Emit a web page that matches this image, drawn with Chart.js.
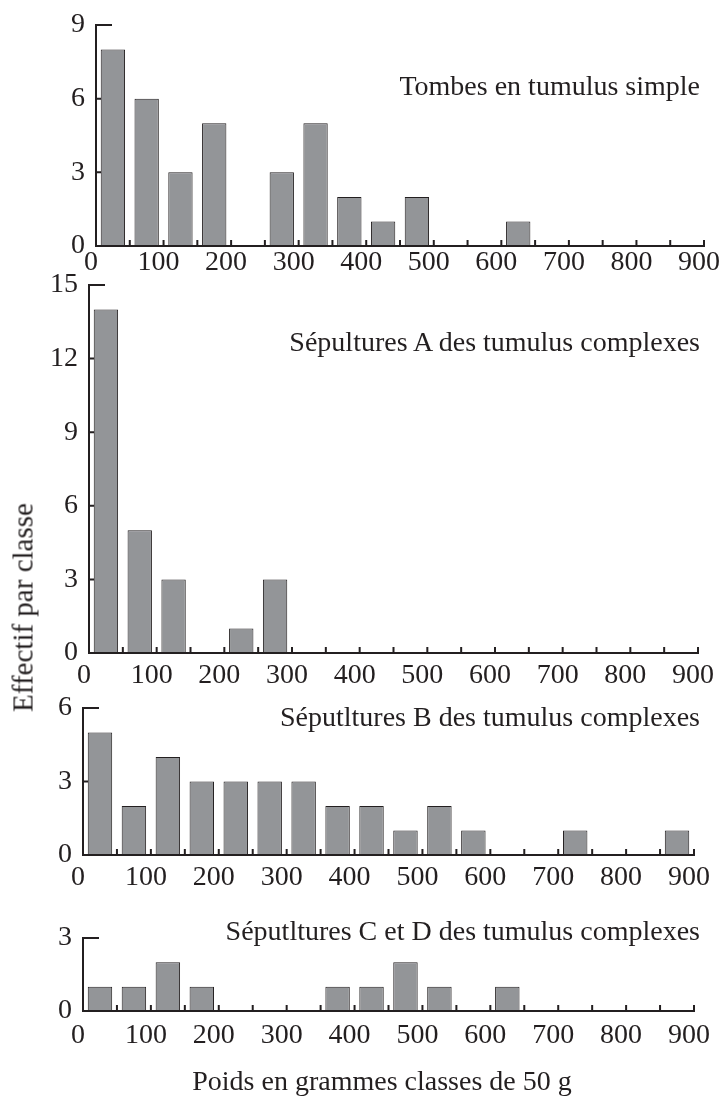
<!DOCTYPE html>
<html lang="fr">
<head>
<meta charset="utf-8">
<title>Effectif par classe de poids</title>
<script src="https://cdn.jsdelivr.net/npm/chart.js@4.4.1/dist/chart.umd.min.js"></script>
<style>
  html, body { margin: 0; padding: 0; background: #fff; }
  #page {
    position: relative; width: 723px; height: 1101px; overflow: hidden;
    font-family: "Liberation Serif", "Times New Roman", serif; color: #231f20;
  }
  #page canvas { position: absolute; left: 0; top: 0; }
  .titre {
    position: absolute; right: 23px; font-size: 28px; line-height: 28px; white-space: nowrap;
  }
  #titre-y {
    position: absolute; left: -127px; top: 593px; width: 300px; height: 29px;
    font-size: 29px; line-height: 29px; text-align: center; white-space: nowrap;
    transform: rotate(-90deg);
  }
  #titre-x {
    position: absolute; left: 0; width: 764px; top: 1067px;
    font-size: 28px; line-height: 28px; text-align: center; white-space: nowrap;
  }
</style>
</head>
<body>
<div id="page">
  <canvas id="c1" width="723" height="1101"></canvas>
  <canvas id="c2" width="723" height="1101"></canvas>
  <canvas id="c3" width="723" height="1101"></canvas>
  <canvas id="c4" width="723" height="1101"></canvas>

  <div class="titre" style="top:72px">Tombes en tumulus simple</div>
  <div class="titre" style="top:328px">Sépultures A des tumulus complexes</div>
  <div class="titre" style="top:703px">Séputltures B des tumulus complexes</div>
  <div class="titre" style="top:917px">Séputltures C et D des tumulus complexes</div>
  <div id="titre-y">Effectif par classe</div>
  <div id="titre-x">Poids en grammes classes de 50 g</div>
</div>

<script>
// centres des classes de 50 g
const classes = [25, 75, 125, 175, 225, 275, 325, 375, 425, 475, 525, 575, 625, 675, 725, 775, 825, 875];

// effectifs par classe
const tombesSimple = [8, 6, 3, 5, 0, 3, 5, 2, 1, 2, 0, 0, 1, 0, 0, 0, 0, 0];
const sepulturesA  = [14, 5, 3, 0, 1, 3, 0, 0, 0, 0, 0, 0, 0, 0, 0, 0, 0, 0];
const sepulturesB  = [5, 2, 4, 3, 3, 3, 3, 2, 2, 1, 2, 1, 0, 0, 1, 0, 0, 1];
const sepulturesCD = [1, 1, 2, 1, 0, 0, 0, 1, 1, 2, 1, 0, 1, 0, 0, 0, 0, 0];

// graduations
const poidsTicks = [0, 100, 200, 300, 400, 500, 600, 700, 800, 900];
const ticksSimple = [0, 3, 6, 9];
const ticksA = [0, 3, 6, 9, 12, 15];
const ticksB = [0, 3, 6];
const ticksCD = [0, 3];

const ink = '#231f20';
const barFill = '#939598';
const police = { family: '"Liberation Serif", "Times New Roman", serif', size: 28 };
const Y_W = 60;
const X_H = 40;

// axes en L avec petites graduations vers l'intérieur
const axesMarks = {
    id: 'axesMarks',
    afterDraw(chart) {
        const { ctx, scales: { x, y } } = chart;
        const x0 = x.getPixelForValue(0);
        const x1 = x.getPixelForValue(900);
        const y0 = y.getPixelForValue(0);
        const yTop = y.getPixelForValue(y.max);

        ctx.save();
        ctx.strokeStyle = ink;
        ctx.lineWidth = 2;
        ctx.lineCap = 'butt';
        ctx.beginPath();
        ctx.moveTo(x0, yTop - 1);
        ctx.lineTo(x0, y0);
        ctx.lineTo(x1 + 1, y0);
        ctx.stroke();

        ctx.beginPath();
        y.ticks.forEach(t => {
            const py = y.getPixelForValue(t.value);
            const len = t.value === y.max ? 16 : 5;
            ctx.moveTo(x0, py);
            ctx.lineTo(x0 + len, py);
        });
        for (let v = 50; v <= 900; v += 50) {
            const px = x.getPixelForValue(v);
            ctx.moveTo(px, y0);
            ctx.lineTo(px, y0 - 6);
        }
        ctx.stroke();
        ctx.restore();
    }
};

function dessinerPanneau(p) {
    new Chart(document.getElementById(p.canvas), {
        type: 'bar',
        data: {
            datasets: [{
                data: classes.map((c, i) => ({ x: c, y: p.valeurs[i] })),
                backgroundColor: barFill,
                borderColor: ink,
                borderWidth: 1
            }]
        },
        options: {
            responsive: false,
            animation: false,
            events: [],
            layout: {
                padding: { left: p.left - Y_W, right: 723 - p.right, top: p.top, bottom: 1101 - p.zero - X_H }
            },
            plugins: { legend: { display: false }, tooltip: { enabled: false } },
            scales: {
                x: {
                    type: 'linear', min: 0, max: 900, offset: false,
                    afterBuildTicks: s => { s.ticks = poidsTicks.map(v => ({ value: v })); },
                    afterFit: s => { s.height = X_H; s.paddingLeft = 0; s.paddingRight = 0; },
                    grid: { display: false, drawTicks: false, offset: false },
                    border: { display: false },
                    ticks: { font: police, color: ink, padding: p.gapX, labelOffset: -5, maxRotation: 0, autoSkip: false }
                },
                y: {
                    min: 0, max: p.yTicks[p.yTicks.length - 1],
                    afterBuildTicks: s => { s.ticks = p.yTicks.map(v => ({ value: v })); },
                    afterFit: s => { s.width = Y_W; s.paddingTop = 0; s.paddingBottom = 0; },
                    grid: { display: false, drawTicks: false },
                    border: { display: false },
                    ticks: { font: police, color: ink, padding: 11 }
                }
            }
        },
        plugins: [axesMarks]
    });
}

dessinerPanneau({ canvas: 'c1', valeurs: tombesSimple, yTicks: ticksSimple, left: 96, right: 704, top: 25, zero: 246, gapX: 0 });
dessinerPanneau({ canvas: 'c2', valeurs: sepulturesA, yTicks: ticksA, left: 89, right: 698, top: 285, zero: 653, gapX: 6 });
dessinerPanneau({ canvas: 'c3', valeurs: sepulturesB, yTicks: ticksB, left: 83, right: 694, top: 708, zero: 855, gapX: 6 });
dessinerPanneau({ canvas: 'c4', valeurs: sepulturesCD, yTicks: ticksCD, left: 83, right: 694, top: 938, zero: 1011, gapX: 8 });
</script>
</body>
</html>
